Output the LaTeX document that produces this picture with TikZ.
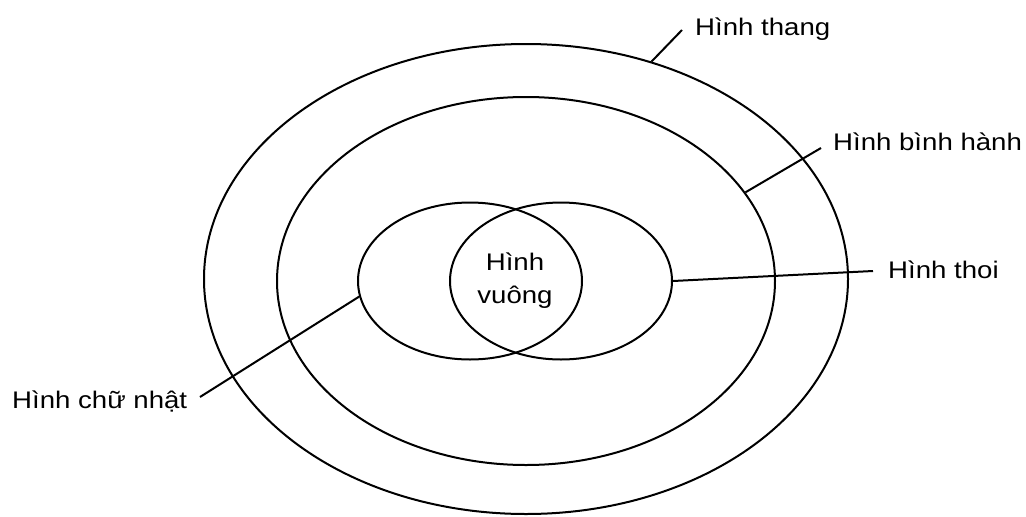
\documentclass[tikz,border=0pt]{standalone}
\usepackage{fontspec}
\setmainfont{Liberation Sans}[FakeStretch=1.15]
\usetikzlibrary{shapes.geometric}

\tikzset{
  ring/.style={draw, ellipse, line width=2pt, inner sep=0pt},
  lbl/.style={inner sep=0pt, font=\fontsize{24}{33}\selectfont},
  leader/.style={line width=2pt}
}

\begin{document}
\begin{tikzpicture}[x=1pt,y=-1pt]
  \useasboundingbox (0,0) rectangle (1026,517);

  % nested sets
  \node[ring, minimum width=644pt, minimum height=470pt] (outer) at (526,279) {};
  \node[ring, minimum width=498pt, minimum height=368pt] (mid) at (526,281) {};
  \node[ring, minimum width=224pt, minimum height=157pt] (rect) at (470,281) {};
  \node[ring, minimum width=222pt, minimum height=157pt] (rhomb) at (561,281) {};

  \node[lbl, align=center] (square) at (515,281) {Hình\\vuông};

  % labels
  \node[lbl, anchor=base west] (thang) at (695,35) {Hình thang};
  \node[lbl, anchor=base west] (binhhanh) at (833,150) {Hình bình hành};
  \node[lbl, anchor=base west] (thoi) at (888,278) {Hình thoi};
  \node[lbl, anchor=base west] (chunhat) at (12,408) {Hình chữ nhật};

  \coordinate (thangTip) at (682,30);
  \coordinate (binhhanhTip) at (821,148);
  \coordinate (thoiTip) at (873,271);
  \coordinate (chunhatTip) at (200,397);

  \draw[leader] (outer.60) -- (thangTip);
  \draw[leader] (mid.22) -- (binhhanhTip);
  \draw[leader] (rhomb.east) -- (thoiTip);
  \draw[leader] (rect.188) -- (chunhatTip);
\end{tikzpicture}
\end{document}
